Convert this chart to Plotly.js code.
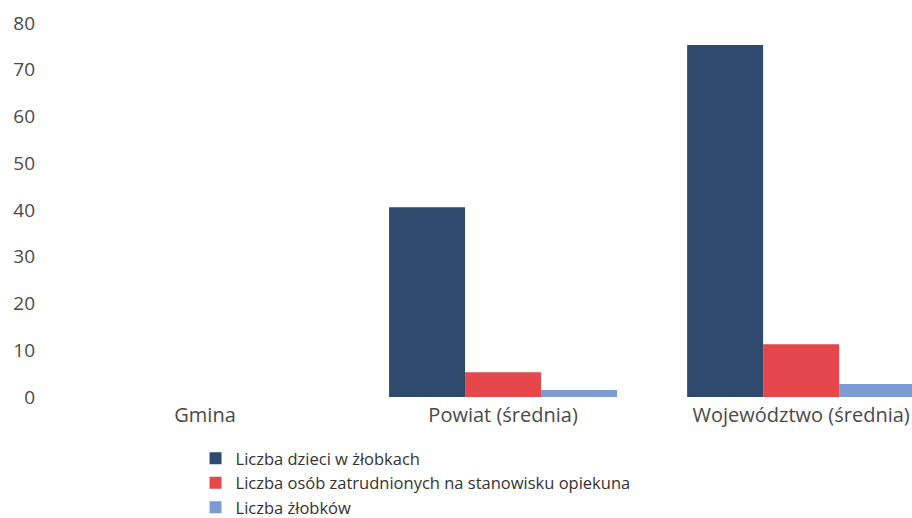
<!DOCTYPE html>
<html>
<head>
<meta charset="utf-8">
<script src="https://cdn.plot.ly/plotly-3.0.1.min.js"></script>
<style>html,body{margin:0;padding:0;background:#fff;}#chart{width:912px;height:518px;}</style>
</head>
<body>
<div id="chart"></div>
<script>
const categories = ["Gmina", "Powiat (średnia)", "Województwo (średnia)"];
const seriesNames = ["Liczba dzieci w żłobkach", "Liczba osób zatrudnionych na stanowisku opiekuna", "Liczba żłobków"];
const dzieci = [0, 40.6, 75.3];
const opiekunowie = [0, 5.3, 11.3];
const zlobki = [0, 1.5, 2.8];
const yTicks = [0, 10, 20, 30, 40, 50, 60, 70, 80];

const colors = ["#2f4a6c", "#e5474b", "#7d9bd3"];
const values = [dzieci, opiekunowie, zlobki];

const traces = values.map((v, i) => ({
  type: "bar",
  x: categories,
  y: v,
  name: seriesNames[i],
  marker: {color: colors[i], line: {width: 0}},
  hoverinfo: "none"
}));

const layout = {
  width: 912, height: 518,
  margin: {l: 56, r: 0, t: 23, b: 121, autoexpand: false},
  paper_bgcolor: "#ffffff", plot_bgcolor: "#ffffff",
  font: {family: "Open Sans, sans-serif", size: 18, color: "#4a4a4a"},
  barmode: "group",
  bargap: 0.235,
  bargroupgap: 0,
  xaxis: {
    type: "category",
    range: [-0.5, 2.372],
    showgrid: false, zeroline: false, showline: false,
    ticks: "", ticklabelstandoff: 4,
    tickfont: {size: 20, color: "#4a4a4a"},
    automargin: false
  },
  yaxis: {
    range: [0, 80],
    tickvals: yTicks,
    showgrid: false, zeroline: false, showline: false,
    ticks: "", ticklabelstandoff: 20,
    tickfont: {size: 19, color: "#4a4a4a"},
    automargin: false
  },
  showlegend: true,
  legend: {
    orientation: "v",
    x: 0.163, xanchor: "left",
    y: -0.118, yanchor: "top",
    font: {size: 16.5, color: "#333"},
    tracegroupgap: 0,
    itemwidth: 30,
    bgcolor: "rgba(0,0,0,0)"
  }
};

Plotly.newPlot("chart", traces, layout, {staticPlot: true, displayModeBar: false});
</script>
</body>
</html>
